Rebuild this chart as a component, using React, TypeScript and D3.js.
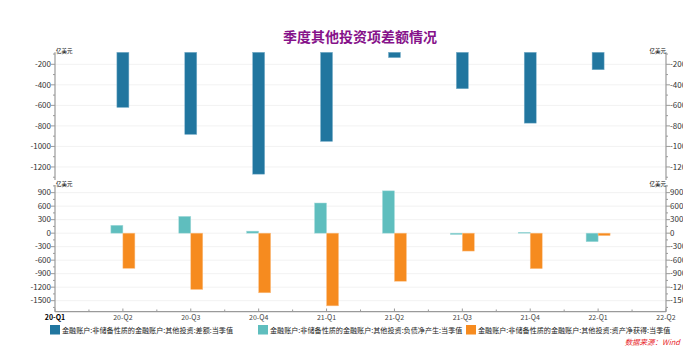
import React from "react";
import * as d3 from "d3";

const categories = ["20-Q1", "20-Q2", "20-Q3", "20-Q4", "21-Q1", "21-Q2", "21-Q3", "21-Q4", "22-Q1", "22-Q2"];
const barQuarters = ["20-Q2", "20-Q3", "20-Q4", "21-Q1", "21-Q2", "21-Q3", "21-Q4", "22-Q1"];
const balanceValues = [-620, -883, -1270, -951, -135, -438, -773, -253];
const liabilityValues = [175, 373, 45, 670, 940, -30, 20, -190];
const assetValues = [-782, -1251, -1325, -1615, -1068, -398, -789, -55];
const topTicks = [-200, -400, -600, -800, -1000, -1200];
const bottomTicks = [900, 600, 300, 0, -300, -600, -900, -1200, -1500];
const seriesNames = [
  "金融账户:非储备性质的金融账户:其他投资:差额:当季值",
  "金融账户:非储备性质的金融账户:其他投资:负债净产生:当季值",
  "金融账户:非储备性质的金融账户:其他投资:资产净获得:当季值",
];
const colors = ["#21769f", "#5fbebe", "#f68b1f"];
const title = "季度其他投资项差额情况";
const unit = "亿美元";
const source = "数据来源：Wind";

const W = 683;
const H = 351;
const xL = 55;
const xR = 666;
const FONT = "'Noto Sans CJK SC', 'Noto Sans', sans-serif";

export default function App() {
  const x = d3.scalePoint<string>().domain(categories).range([xL, xR]);
  const step = x.step();
  const yTop = d3.scaleLinear().domain([-1327, -83]).range([180, 52.3]);
  const yBot = d3.scaleLinear().domain([-1745, 1070]).range([311.7, 185]);
  const bw = 12;

  const minorTop: number[] = [];
  for (let v = -100; v >= -1300; v -= 200) minorTop.push(v);
  const minorBot: number[] = [];
  for (let v = 1050; v >= -1650; v -= 150) if (v % 300 !== 0) minorBot.push(v);

  const axisColor = "#9a9a9a";

  const renderYAxis = (
    scale: d3.ScaleLinear<number, number>,
    ticks: number[],
    minors: number[],
    key: string
  ) => {
    const [d0, d1] = scale.domain();
    const y0 = scale(d0);
    const y1 = scale(d1);
    return (
      <g key={key}>
        {ticks.map((t) => (
          <line key={"g" + t} x1={xL} x2={xR} y1={scale(t)} y2={scale(t)} stroke="#f2f2f2" strokeWidth={1} />
        ))}
        <line x1={xL} x2={xL} y1={y0} y2={y1} stroke={axisColor} strokeWidth={1.2} />
        <line x1={xR} x2={xR} y1={y0} y2={y1} stroke={axisColor} strokeWidth={1.2} />
        {ticks.map((t) => (
          <g key={"t" + t}>
            <line x1={xL - 4} x2={xL} y1={scale(t)} y2={scale(t)} stroke={axisColor} />
            <line x1={xR} x2={xR + 4} y1={scale(t)} y2={scale(t)} stroke={axisColor} />
            <text x={xL - 4} y={scale(t)} dy="0.35em" textAnchor="end" fontSize={8} fill="#333" fontFamily={FONT}>
              {t}
            </text>
            <text x={xR + 4} y={scale(t)} dy="0.35em" textAnchor="start" fontSize={8} fill="#333" fontFamily={FONT}>
              {t}
            </text>
          </g>
        ))}
        {minors.map((t) => (
          <g key={"m" + t}>
            <line x1={xL - 2} x2={xL} y1={scale(t)} y2={scale(t)} stroke={axisColor} />
            <line x1={xR} x2={xR + 2} y1={scale(t)} y2={scale(t)} stroke={axisColor} />
          </g>
        ))}
        <text x={xL + 1} y={y1 + 1} fontSize={5.5} fill="#000" fontFamily={FONT}>
          {unit}
        </text>
        <text x={xR} y={y1 + 1} textAnchor="end" fontSize={5.5} fill="#000" fontFamily={FONT}>
          {unit}
        </text>
      </g>
    );
  };

  const legendX = [50, 258, 466];

  return (
    <svg width={W} height={H} style={{ position: "absolute", left: 0, top: 0, background: "#fff" }}>
      <rect x={0} y={0} width={W} height={H} fill="#fff" />
      <text x={360} y={42} textAnchor="middle" fontSize={14} fontWeight="bold" fill="#86128a" fontFamily={FONT}>
        {title}
      </text>

      {renderYAxis(yTop, topTicks, minorTop, "top")}
      {renderYAxis(yBot, bottomTicks, minorBot, "bot")}

      {barQuarters.map((q, i) => {
        const cx = x(q)!;
        const yt = yTop(-83);
        return (
          <rect key={"b" + q} x={cx - bw / 2} y={yt} width={bw} height={yTop(balanceValues[i]) - yt}
            fill={colors[0]} stroke="#7fb2cc" strokeWidth={0.5} />
        );
      })}
      {barQuarters.map((q, i) => {
        const cx = x(q)!;
        const v = liabilityValues[i];
        const y0 = yBot(0);
        const yv = yBot(v);
        return (
          <rect key={"l" + q} x={cx - bw} y={Math.min(y0, yv)} width={bw} height={Math.abs(yv - y0)}
            fill={colors[1]} stroke="#a8dcdc" strokeWidth={0.5} />
        );
      })}
      {barQuarters.map((q, i) => {
        const cx = x(q)!;
        const v = assetValues[i];
        const y0 = yBot(0);
        const yv = yBot(v);
        return (
          <rect key={"a" + q} x={cx} y={Math.min(y0, yv)} width={bw} height={Math.abs(yv - y0)}
            fill={colors[2]} stroke="#fbc48e" strokeWidth={0.5} />
        );
      })}

      <line x1={xL} x2={xR} y1={311.7} y2={311.7} stroke={axisColor} strokeWidth={1.2} />
      {categories.map((c, i) => (
        <g key={"x" + c}>
          <line x1={x(c)!} x2={x(c)!} y1={311.7} y2={308.5} stroke={axisColor} />
          {i < categories.length - 1 && (
            <line x1={x(c)! + step / 2} x2={x(c)! + step / 2} y1={311.7} y2={309.5} stroke={axisColor} />
          )}
          <text x={x(c)!} y={320} textAnchor="middle" fontSize={7} fill={i === 0 ? "#000" : "#444"}
            fontWeight={i === 0 ? "bold" : "normal"} fontFamily={FONT}>
            {c}
          </text>
        </g>
      ))}

      {seriesNames.map((s, i) => (
        <g key={"lg" + i}>
          <rect x={legendX[i]} y={325} width={10} height={9.5} fill={colors[i]} />
          <text x={legendX[i] + 12} y={332.6} fontSize={7.1} fill="#222" fontFamily={FONT}>
            {s}
          </text>
        </g>
      ))}

      <text x={680} y={345} textAnchor="end" fontSize={7.5} fontStyle="italic" fill="#e8262b" fontFamily={FONT}>
        {source}
      </text>
    </svg>
  );
}
